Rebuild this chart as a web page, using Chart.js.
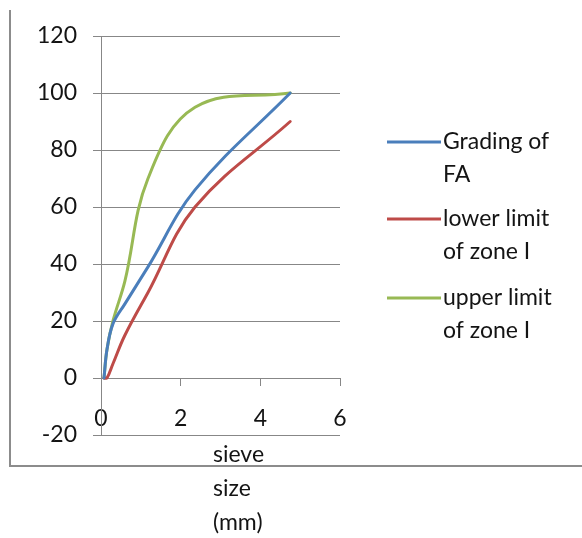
<!DOCTYPE html>
<html>
<head>
<meta charset="utf-8">
<script src="https://cdn.jsdelivr.net/npm/chart.js@4.4.0/dist/chart.umd.min.js"></script>
<style>
  html, body { margin: 0; padding: 0; background: #ffffff; }
  #wrap { position: relative; width: 582px; height: 538px; }
</style>
</head>
<body>
<div id="wrap"><canvas id="c" width="582" height="538"></canvas></div>
<script>
// Sieve sizes (mm) and cumulative percentage passing
const sieveSizes = [0.075, 0.15, 0.3, 0.6, 1.18, 2.36, 4.75];
const gradingFA  = [0, 10, 19, 26, 39, 66, 100];
const lowerZoneI = [0, 0, 5, 15, 30, 60, 90];
const upperZoneI = [0, 10, 20, 34, 70, 95, 100];

const seriesLabels = [['Grading of', 'FA'], ['lower limit', 'of zone I'], ['upper limit', 'of zone I']];
const seriesColors = ['#4a7ebb', '#be4b48', '#98b954'];
const axisTitleLines = ['sieve', 'size', '(mm)'];

const FONT = 'Lato, "Open Sans", sans-serif';
const TEXT = '#141414';
const GRID = '#878787';

function pts(ys) { return sieveSizes.map((x, i) => ({ x: x, y: ys[i] })); }

// Wrapped legend at the right and the wrapped axis title under the plot
const decorations = {
  id: 'decorations',
  afterDraw(chart) {
    const ctx = chart.ctx;
    ctx.save();
    // outer frame (left and bottom edges)
    ctx.strokeStyle = '#8c8c8c';
    ctx.lineWidth = 2;
    ctx.beginPath();
    ctx.moveTo(10, 10);
    ctx.lineTo(10, 466);
    ctx.lineTo(582, 466);
    ctx.stroke();

    ctx.font = '23px ' + FONT;
    ctx.fillStyle = TEXT;
    ctx.textBaseline = 'middle';
    ctx.textAlign = 'left';
    const tops = [142, 219, 298];
    chart.data.datasets.forEach((ds, i) => {
      const y0 = tops[i];
      ctx.strokeStyle = ds.borderColor;
      ctx.lineWidth = 3;
      ctx.beginPath();
      ctx.moveTo(387, y0);
      ctx.lineTo(441, y0);
      ctx.stroke();
      seriesLabels[i].forEach((t, k) => ctx.fillText(t, 443, y0 + k * 33));
    });

    axisTitleLines.forEach((t, k) => ctx.fillText(t, 213, 455 + k * 34));
    ctx.restore();
  }
};

new Chart(document.getElementById('c'), {
  type: 'scatter',
  data: {
    datasets: [
      { label: seriesLabels[0].join(' '), data: pts(gradingFA) },
      { label: seriesLabels[1].join(' '), data: pts(lowerZoneI) },
      { label: seriesLabels[2].join(' '), data: pts(upperZoneI) }
    ].map((d, i) => Object.assign(d, {
      showLine: true,
      borderColor: seriesColors[i],
      backgroundColor: seriesColors[i],
      borderWidth: 3,
      pointRadius: 0,
      tension: 0.38,
      borderCapStyle: 'round',
      borderJoinStyle: 'round'
    }))
  },
  options: {
    responsive: false,
    animation: false,
    layout: { padding: { left: 0, top: 36, right: 242, bottom: 103 } },
    plugins: { legend: { display: false }, tooltip: { enabled: false } },
    scales: {
      x: {
        type: 'linear',
        position: { y: 0 },
        min: 0, max: 6,
        ticks: { stepSize: 2, color: TEXT, font: { family: FONT, size: 23 }, padding: 20 },
        grid: { drawOnChartArea: false, drawTicks: true, tickLength: 7, color: GRID, lineWidth: 1 },
        border: { color: GRID, width: 1 }
      },
      y: {
        min: -20, max: 120,
        ticks: { stepSize: 20, color: TEXT, font: { family: FONT, size: 23 }, padding: 16 },
        grid: { color: GRID, lineWidth: 1, tickLength: 8 },
        border: { color: GRID, width: 1 },
        afterFit(scale) { scale.width = 101; }
      }
    }
  },
  plugins: [decorations]
});
</script>
</body>
</html>
